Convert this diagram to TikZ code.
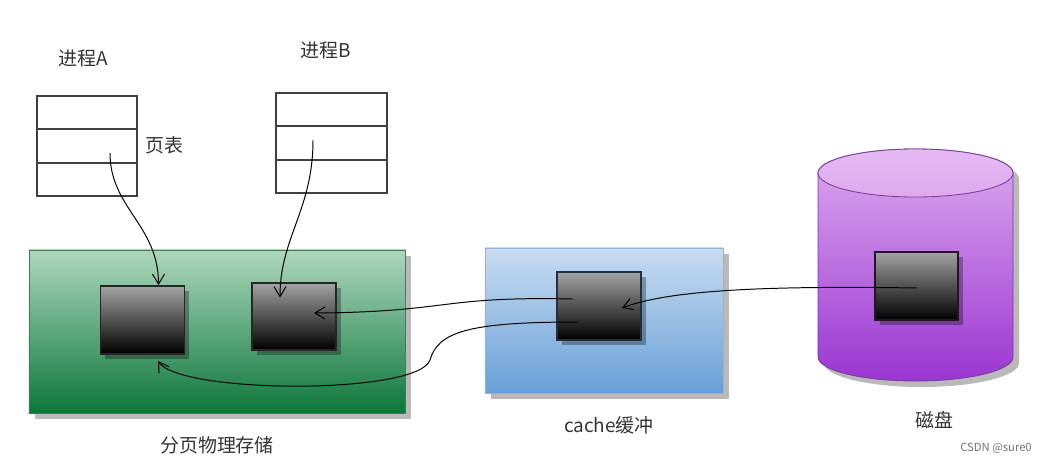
\documentclass[tikz,border=0pt]{standalone}
\usepackage{fontspec}
\newfontfamily\cjk{Noto Sans CJK SC}
\usepackage{xcolor}
\usepackage{tikz}
\usetikzlibrary{arrows.meta, shadows, calc}

\definecolor{greenTop}{HTML}{AED7BE}
\definecolor{greenBot}{HTML}{0C773A}
\definecolor{greenLine}{HTML}{3E7D57}
\definecolor{blueTop}{HTML}{C8DCF0}
\definecolor{blueBot}{HTML}{689FD8}
\definecolor{blueLine}{HTML}{93B4DA}
\definecolor{purpTop}{HTML}{DDA9EF}
\definecolor{purpBot}{HTML}{9A36D2}
\definecolor{purpLine}{HTML}{7A3C98}
\definecolor{blockTop}{HTML}{A3A3A3}
\definecolor{cacheEdge}{HTML}{22303F}

\begin{document}
\begin{tikzpicture}[
    x=0.025cm, y=-0.025cm,
    table/.style={rectangle, draw=black!75, line width=1pt, minimum width=#1, minimum height=2.5cm},
    area/.style={rectangle, draw=#1, line width=0.6pt, drop shadow={shadow xshift=0.15cm, shadow yshift=-0.15cm, fill=gray!55, opacity=1}},
    page/.style={rectangle, draw=#1, line width=1pt, top color=blockTop, bottom color=black, minimum width=2.1cm, minimum height=1.7cm, drop shadow={shadow xshift=0.12cm, shadow yshift=-0.12cm, fill=black, opacity=0.3}},
    link/.style={-{Straight Barb[length=2.5mm, width=3mm]}, line width=0.7pt},
    title/.style={font=\cjk\fontsize{13.5}{16}\selectfont, text=black!80}
]
\useasboundingbox (0,0) rectangle (1045,463);

% Page tables
\node[table=2.5cm] (tA) at (87,146) {};
\node[table=2.775cm] (tB) at (331.5,143) {};
\foreach \t in {tA,tB}
  \foreach \f in {1/3,2/3}
    \draw[black!75, line width=1pt] ($(\t.north west)!\f!(\t.south west)$) -- ($(\t.north east)!\f!(\t.south east)$);

% Storage areas
\node[area=greenLine, top color=greenTop, bottom color=greenBot, minimum width=9.4cm, minimum height=4.075cm] (mem) at (217,331.5) {};
\node[area=blueLine, top color=blueTop, bottom color=blueBot, minimum width=5.95cm, minimum height=3.625cm] (cache) at (604,320.5) {};

% Disk cylinder
\fill[gray!55, shift={(6,6)}] (818,173) -- (818,357) arc[start angle=180, end angle=360, x radius=2.4375cm, y radius=0.6cm] -- (1013,173) arc[start angle=0, end angle=180, x radius=2.4375cm, y radius=0.6cm] -- cycle;
\draw[purpLine, line width=0.6pt, top color=purpTop, bottom color=purpBot] (818,173) -- (818,357) arc[start angle=180, end angle=360, x radius=2.4375cm, y radius=0.6cm] -- (1013,173) arc[start angle=0, end angle=180, x radius=2.4375cm, y radius=0.6cm] -- cycle;
\draw[purpLine, line width=0.6pt, top color=purpTop!80!white, bottom color=purpTop] (915.5,173) ellipse[x radius=2.4375cm, y radius=0.6cm];

% Pages
\node[page=black!85] (blk1) at (142.5,320) {};
\node[page=black!85, minimum height=1.675cm] (blk2) at (294,316.5) {};
\node[page=cacheEdge] (blk3) at (599,306) {};
\node[page={black!70!purpLine}, minimum width=2.075cm] (blk4) at (916.5,286) {};

% Links
\draw[link] ([shift={(23,7)}]tA.center) .. controls +(0,55) and +(0,-60) .. ([shift={(16,-35)}]blk1.center);
\draw[link] ([shift={(-18.5,-3)}]tB.center) .. controls +(0,70) and +(0,-60) .. ([shift={(-14,-19)}]blk2.center);
\draw[link] ([shift={(0.5,2)}]blk4.center) .. controls +(-180,-3) and +(40,-15) .. ([shift={(23,2)}]blk3.center);
\draw[link] ([shift={(-26,-7)}]blk3.center) .. controls +(-133,-3) and +(136,-1) .. ([shift={(20,-3.5)}]blk2.center);
\draw[link] ([shift={(-21,16)}]blk3.center) .. controls +(-110,0) and +(8,-28) .. ++(-148,38)
    .. controls +(-12,35) and +(22,33) .. ([shift={(15.5,41)}]blk1.center);

% Labels
\node[title] (lA) at (83,58) {进程A};
\node[title] (lB) at (326,50) {进程B};
\node[title] (lpt) at (164,145) {页表};
\node[title] (lmem) at (217,445) {分页物理存储};
\node[title] (lcache) at (609,425) {cache缓冲};
\node[title] (ldisk) at (934,420) {磁盘};
\node[font=\cjk\fontsize{8}{10}\selectfont, text=black!55] (mark) at (996,448) {CSDN @sure0};
\end{tikzpicture}
\end{document}
